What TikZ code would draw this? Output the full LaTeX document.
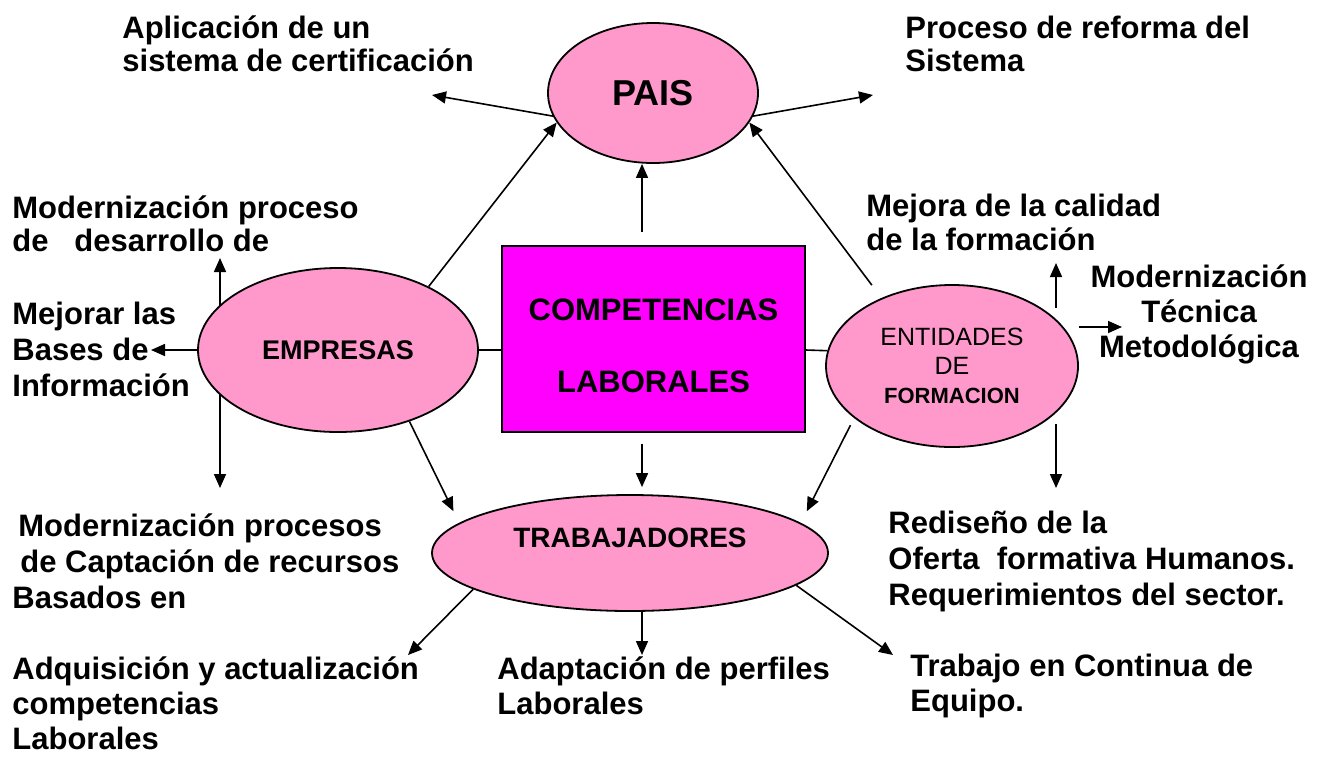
\documentclass[tikz,border=0pt]{standalone}
\usepackage{fontspec}
\setmainfont{Liberation Sans}
\usetikzlibrary{positioning,arrows.meta,shapes.geometric}

\definecolor{rosa}{HTML}{FF99CC}
\definecolor{fucsia}{HTML}{FF00FF}

\begin{document}
\begin{tikzpicture}[
  x=0.5pt, y=-0.5pt,
  actor/.style={ellipse, draw=black, line width=0.9pt, fill=rosa,
                inner sep=0pt, align=center},
  core/.style={rectangle, draw=black, line width=0.9pt, fill=fucsia,
               inner sep=0pt, align=center, minimum width=151.5pt, minimum height=93pt},
  effect/.style={anchor=west, align=left, inner sep=0pt,
                 font=\fontsize{15.5}{#1}\selectfont\bfseries},
  effect/.default=17.5,
  arrow/.style={-{Triangle[length=7pt,width=6pt]}, line width=0.8pt},
  link/.style={line width=0.8pt},
]
\useasboundingbox (0,0) rectangle (1336,756);

% ---- actors ----
\node[actor, minimum width=105pt, minimum height=70pt,
      font=\fontsize{18}{20}\selectfont\bfseries] (pais) at (653,93) {PAIS};
\node[core, font=\fontsize{15.5}{36}\selectfont\bfseries] (comp) at (653.5,339)
      {\rule{0pt}{18pt}COMPETENCIAS\\LABORALES};
\node[actor, minimum width=140pt, minimum height=82pt,
      font=\fontsize{13.5}{15}\selectfont\bfseries] (emp) at (338,350) {EMPRESAS};
\node[actor, minimum width=126pt, minimum height=81pt,
      font=\fontsize{12.5}{14.5}\selectfont] (ent) at (952,366)
      {ENTIDADES\\DE\\{\fontsize{11}{14.5}\selectfont\bfseries FORMACION}};
\node[actor, minimum width=198pt, minimum height=58pt,
      font=\fontsize{14}{16}\selectfont\bfseries] (trab) at (630,553)
      {\raisebox{3pt}[0pt][0pt]{TRABAJADORES}};

% ---- effects ----
\node[effect=16.5] (aplic) at (122,44) {Aplicación de un\\sistema de certificación};
\node[effect=16.5] (proc) at (905,44) {Proceso de reforma del\\Sistema};
\node[effect=16.5] (modDes) at (12,224) {Modernización proceso\\de\ \ \ desarrollo de};
\node[effect=18] (mejorar) at (12,349) {Mejorar las\\Bases de\\Información};
\node[effect=17] (mejoraCal) at (866,222) {Mejora de la calidad\\de la formación};
\node[effect, anchor=center, align=center] (modTec) at (1199,314)
      {Modernización\\Técnica\hspace*{6pt}\\Metodológica};
\node[effect=18] (modCap) at (12,561)
      {\hspace*{3pt}Modernización procesos\\\hspace*{4pt}de Captación de recursos\\Basados en};
\node[effect=18] (redis) at (888,561)
      {Rediseño de la\\Oferta\ \ formativa Humanos.\\Requerimientos del sector.};
\node[effect] (adq) at (12,703) {Adquisición y actualización\\competencias\\Laborales};
\node[effect] (adap) at (497,686) {Adaptación de perfiles\\Laborales};
\node[effect] (trabEq) at (910,686) {Trabajo en Continua de\\Equipo.};

% ---- free arrow ends ----
\coordinate (tAplic) at (432,95);
\coordinate (tProc) at (873,95);
\coordinate (tModDes) at (220,258);
\coordinate (tMejorar) at (151,350);
\coordinate (tModCap) at (220,488);
\coordinate (tMejoraCal) at (1056,263);
\coordinate (tModTec) at (1122,327);
\coordinate (tRedis) at (1056,488);
\coordinate (tAdq) at (408,655);
\coordinate (tAdap) at (642,655);
\coordinate (tTrabEq) at (893,655);

% ---- connectors ----
\draw[arrow] (pais.193) -- (tAplic);
\draw[arrow] (pais.347) -- (tProc);
\draw[arrow] (emp.35) -- (pais.197);
\draw[arrow, shorten <=6.5pt] (comp.north -| tAdap) -- (pais.south -| tAdap);
\draw[arrow, shorten <=8pt] (ent.136) -- (pais.343);

\draw[link] (emp.east) -- (emp.east -| comp.west);
\draw[link] (comp.east |- emp.east) -- (ent.173);

\draw[arrow] (tModDes |- emp.160) -- (tModDes);
\draw[arrow] (emp.west) -- (tMejorar);
\draw[arrow] (tModCap |- emp.200) -- (tModCap);
\draw[arrow, shorten >=6.5pt] (emp.315) -- (trab.170);

\draw[arrow, shorten <=5.5pt, shorten >=3.5pt] (comp.south -| tAdap) -- (trab.north -| tAdap);
\draw[arrow, shorten <=4pt, shorten >=6.5pt] (ent.208) -- (trab.10);

\draw[arrow] (tMejoraCal |- ent.north east) -- (tMejoraCal);
\draw[arrow] (ent.east |- tModTec) -- (tModTec);
\draw[arrow] (tRedis |- ent.south east) -- (tRedis);

\draw[arrow] (trab.193) -- (tAdq);
\draw[arrow] (trab.south -| tAdap) -- (tAdap);
\draw[arrow] (trab.349) -- (tTrabEq);

\end{tikzpicture}
\end{document}
